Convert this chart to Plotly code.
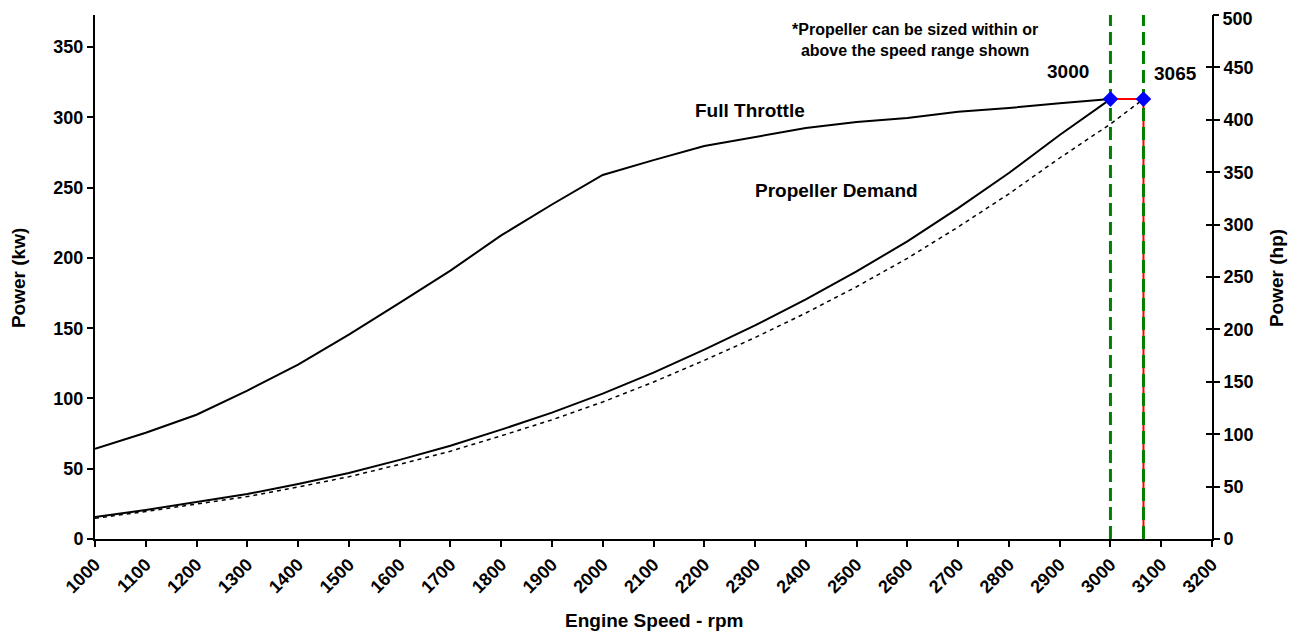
import plotly.graph_objects as go

rpm = [1000, 1100, 1200, 1300, 1400, 1500, 1600, 1700, 1800, 1900, 2000,
       2100, 2200, 2300, 2400, 2500, 2600, 2700, 2800, 2900, 3000]
full_throttle_kw = [64.2, 75.6, 88.4, 105.6, 124.0, 145.5, 168.0, 191.0, 216.0, 238.0, 259.0,
                    269.6, 279.6, 286.0, 292.4, 296.7, 299.6, 304.0, 306.7, 310.0, 313.0]
prop_demand_kw = [15.7, 20.7, 26.4, 32.0, 39.2, 47.0, 56.3, 66.3, 77.8, 89.9, 103.4,
                  118.4, 134.8, 152.0, 170.5, 190.4, 211.8, 235.4, 260.4, 287.5, 313.0]
rpm_ext = rpm + [3065]
prop_ext_kw = [14.8, 19.5, 24.9, 30.2, 37.0, 44.3, 53.1, 62.5, 73.4, 84.8, 97.5,
               111.7, 127.1, 143.3, 160.8, 179.5, 199.7, 222.0, 245.6, 271.1, 295.3, 313.0]
rated_rpm = [3000, 3065]
rated_kw = [313.0, 313.0]
red_x = [3000, 3065, 3065]
red_y = [313.0, 313.0, 0]
hp_ticks = [0, 50, 100, 150, 200, 250, 300, 350, 400, 450]
hp_top_tick = [500]
KW_MAX = 372.85
HP_MAX = 500

FONT = "Liberation Sans"
fig = go.Figure()

fig.add_trace(go.Scatter(x=rpm, y=full_throttle_kw, mode="lines",
                         line=dict(color="black", width=2), showlegend=False))
fig.add_trace(go.Scatter(x=rpm, y=prop_demand_kw, mode="lines",
                         line=dict(color="black", width=2), showlegend=False))
fig.add_trace(go.Scatter(x=rpm_ext, y=prop_ext_kw, mode="lines",
                         line=dict(color="black", width=1.5, dash="4px,4px"), showlegend=False))
fig.add_trace(go.Scatter(x=red_x, y=red_y, mode="lines",
                         line=dict(color="red", width=2), showlegend=False))
for xv in rated_rpm:
    fig.add_trace(go.Scatter(x=[xv, xv], y=[0, KW_MAX * 1.01], mode="lines", cliponaxis=False,
                             line=dict(color="#008000", width=3, dash="13px,6px"), showlegend=False))
fig.add_trace(go.Scatter(x=rated_rpm, y=rated_kw, mode="markers",
                         marker=dict(symbol="diamond", color="blue", size=12), showlegend=False))
fig.add_trace(go.Scatter(x=[None], y=[None], yaxis="y2", showlegend=False))
fig.add_trace(go.Scatter(x=[None], y=[None], yaxis="y3", showlegend=False))
fig.add_trace(go.Scatter(x=[None], y=[None], yaxis="y4", showlegend=False))

tickfont = dict(family=FONT, size=18, color="black", weight="bold")
common = dict(showgrid=False, zeroline=False, automargin=False, ticklabeloverflow="allow")

fig.update_layout(
    width=1296, height=633,
    margin=dict(l=87, r=92, t=7, b=102),
    plot_bgcolor="white", paper_bgcolor="white",
    font=dict(family=FONT, color="black"),
    xaxis=dict(range=[1000, 3200], dtick=100, tick0=1000, tickangle=-45,
               showline=True, linecolor="black", linewidth=2,
               ticks="outside", ticklen=6, tickwidth=2, tickcolor="black",
               tickfont=tickfont, **common),
    yaxis=dict(range=[0, KW_MAX], dtick=50,
               showline=True, linecolor="black", linewidth=2,
               ticks="outside", ticklen=6, tickwidth=2, tickcolor="black",
               tickfont=tickfont, **common),
    yaxis2=dict(range=[0, HP_MAX], tickvals=hp_ticks, overlaying="y", side="right",
                showline=True, linecolor="black", linewidth=2,
                ticks="outside", ticklen=6, tickwidth=2, tickcolor="black",
                tickfont=tickfont, **common),
    yaxis3=dict(range=[0, HP_MAX], dtick=50, overlaying="y", side="right",
                showline=False, showticklabels=False,
                ticks="inside", ticklen=6, tickwidth=2, tickcolor="black",
                showgrid=False, zeroline=False, automargin=False),
    yaxis4=dict(range=[0, HP_MAX], tickvals=hp_top_tick, overlaying="y", side="right",
                showline=False, ticks="outside", ticklen=6, tickwidth=2, tickcolor="black",
                ticklabelshift=4, tickfont=tickfont, **common),
)

titlefont = dict(family=FONT, size=19, color="black", weight="bold")
fig.add_annotation(xref="paper", yref="paper", x=(18 - 95) / 1117, y=0.498, text="Power (kw)",
                   xanchor="center", yanchor="middle",
                   textangle=-90, showarrow=False, font=titlefont)
fig.add_annotation(xref="paper", yref="paper", x=(1276 - 95) / 1117, y=0.498, text="Power (hp)",
                   xanchor="center", yanchor="middle",
                   textangle=-90, showarrow=False, font=titlefont)
fig.add_annotation(xref="paper", yref="paper", x=(654 - 95) / 1117, y=(539 - 620) / 524,
                   xanchor="center", yanchor="middle",
                   text="Engine Speed - rpm", showarrow=False, font=titlefont)

annfont = dict(family=FONT, size=19, color="black", weight="bold")
fig.add_annotation(x=2290, y=305, text="Full Throttle", showarrow=False, font=annfont)
fig.add_annotation(x=2460, y=248, text="Propeller Demand", showarrow=False, font=annfont)
fig.add_annotation(x=2615, y=355, text="*Propeller can be sized within or<br>above the speed range shown",
                   showarrow=False, font=dict(family=FONT, size=16, color="black", weight="bold"))
fig.add_annotation(x=2917, y=333, text="3000", showarrow=False, font=annfont)
fig.add_annotation(x=3129, y=331, text="3065", showarrow=False, font=annfont)

fig.write_html("out.html")
